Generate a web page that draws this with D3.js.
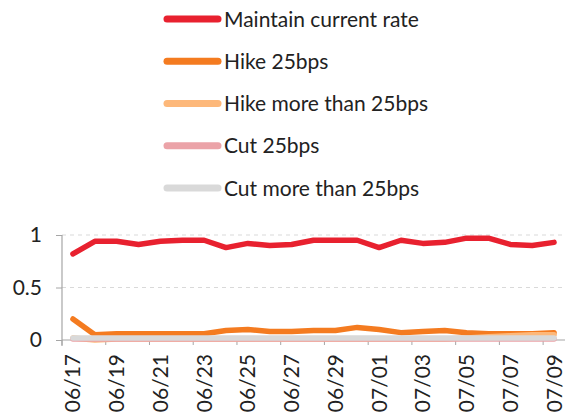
<!DOCTYPE html>
<html><head><meta charset="utf-8">
<script src="https://cdn.jsdelivr.net/npm/d3@7/dist/d3.min.js"></script>
<style>
html,body{margin:0;padding:0;background:#fff;}
svg{display:block;font-family:"Lato",sans-serif;}
</style></head>
<body>
<svg id="chart" width="565" height="417"></svg>
<script>
const dates = ["06/17","06/18","06/19","06/20","06/21","06/22","06/23","06/24","06/25","06/26","06/27","06/28","06/29","06/30","07/01","07/02","07/03","07/04","07/05","07/06","07/07","07/08","07/09"];
const maintainRate = [0.82,0.94,0.94,0.91,0.94,0.95,0.95,0.88,0.92,0.90,0.91,0.95,0.95,0.95,0.88,0.95,0.92,0.93,0.97,0.97,0.91,0.90,0.93];
const hike25 = [0.20,0.05,0.06,0.06,0.06,0.06,0.06,0.09,0.10,0.08,0.08,0.09,0.09,0.12,0.10,0.07,0.08,0.09,0.07,0.06,0.06,0.06,0.07];
const hikeMore = [0.02,0.00,0.01,0.01,0.01,0.01,0.01,0.01,0.01,0.01,0.01,0.01,0.01,0.01,0.01,0.01,0.01,0.01,0.02,0.03,0.04,0.05,0.05];
const cut25 = [0.01,0.01,0.01,0.01,0.01,0.01,0.01,0.01,0.01,0.01,0.01,0.01,0.01,0.01,0.01,0.01,0.01,0.01,0.01,0.01,0.01,0.01,0.01];
const cutMore = [0.02,0.02,0.02,0.02,0.02,0.02,0.02,0.02,0.02,0.02,0.02,0.02,0.02,0.02,0.02,0.02,0.02,0.02,0.02,0.02,0.02,0.02,0.02];
const seriesNames = ["Maintain current rate","Hike 25bps","Hike more than 25bps","Cut 25bps","Cut more than 25bps"];
const seriesColors = ["#e8212f","#f47b20","#fdb87a","#eba3a8","#d9d9d9"];
const yTicks = [0, 0.5, 1];

const series = [maintainRate, hike25, hikeMore, cut25, cutMore];
const svg = d3.select("#chart");
const pL = 62, pR = 565, pT = 235, pB = 340;
const fontSize = "21px";

const x = d3.scaleBand().domain(dates).range([pL, pR]);
const y = d3.scaleLinear().domain([0, 1]).range([pB, pT]);
const axisColor = "#a6a6a6";
const textColor = "#222";

// gridlines
svg.append("g").selectAll("line").data(yTicks.filter(d => d > 0)).join("line")
  .attr("x1", pL).attr("x2", pR)
  .attr("y1", d => y(d)).attr("y2", d => y(d))
  .attr("stroke", "#d9d9d9").attr("stroke-dasharray", "4,4").attr("stroke-width", 1);

// y axis
const yAxis = svg.append("g").attr("transform", `translate(${pL},0)`)
  .call(d3.axisLeft(y).tickValues(yTicks).tickSize(6).tickPadding(14).tickFormat(d3.format("")));
yAxis.select(".domain").remove();
yAxis.selectAll(".tick line").attr("stroke", axisColor);
yAxis.selectAll("text").attr("fill", textColor).style("font-size", fontSize).style("font-family", "Lato");
svg.append("line").attr("x1", pL).attr("x2", pL).attr("y1", pT).attr("y2", pB + 6)
  .attr("stroke", axisColor).attr("stroke-width", 1.2);

// x axis
const shown = dates.filter((d, i) => i % 2 === 0);
const xAxisG = svg.append("g").attr("transform", `translate(0,${pB})`);
xAxisG.append("line").attr("x1", pL).attr("x2", pR).attr("y1", 0).attr("y2", 0)
  .attr("stroke", axisColor).attr("stroke-width", 1.2);
xAxisG.selectAll("line.tk").data(shown).join("line").attr("class", "tk")
  .attr("x1", d => x(d)).attr("x2", d => x(d)).attr("y1", 0).attr("y2", 5)
  .attr("stroke", axisColor).attr("stroke-width", 1);
xAxisG.selectAll("text").data(shown).join("text")
  .attr("transform", d => `translate(${x(d) + x.bandwidth() / 2},14) rotate(-90)`)
  .attr("text-anchor", "end").attr("dy", "0.36em")
  .attr("fill", textColor).style("font-size", fontSize).text(d => d);

// lines
const line = d3.line().x((d, i) => x(dates[i]) + x.bandwidth() / 2).y(d => y(d));
series.forEach((s, k) => {
  svg.append("path").datum(s).attr("d", line)
    .attr("fill", "none").attr("stroke", seriesColors[k]).attr("stroke-width", 5.5)
    .attr("stroke-linecap", "round").attr("stroke-linejoin", "round");
});

// legend
const lg = svg.append("g");
seriesNames.forEach((name, k) => {
  const cy = 19 + k * 42.25;
  lg.append("line").attr("x1", 167).attr("x2", 218).attr("y1", cy).attr("y2", cy)
    .attr("stroke", seriesColors[k]).attr("stroke-width", 7).attr("stroke-linecap", "round");
  lg.append("text").attr("x", 224).attr("y", cy).attr("dy", "0.36em")
    .attr("fill", textColor).style("font-size", fontSize).text(name);
});
</script>
</body></html>
